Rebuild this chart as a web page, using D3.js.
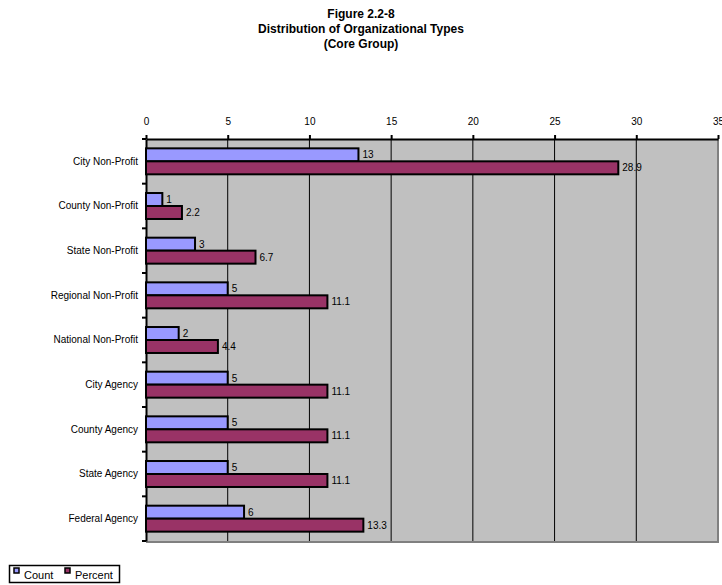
<!DOCTYPE html>
<html><head><meta charset="utf-8">
<script src="https://cdn.jsdelivr.net/npm/d3@7"></script>
<style>body{margin:0;background:#fff;} svg{display:block;font-family:Arial,"Liberation Sans",sans-serif;}</style>
</head><body>
<script>
const titleLines = ["Figure 2.2-8", "Distribution of Organizational Types", "(Core Group)"];
const categories = ["City Non-Profit","County Non-Profit","State Non-Profit","Regional Non-Profit","National Non-Profit","City Agency","County Agency","State Agency","Federal Agency"];
const countValues = [13, 1, 3, 5, 2, 5, 5, 5, 6];
const percentValues = [28.9, 2.2, 6.7, 11.1, 4.4, 11.1, 11.1, 11.1, 13.3];
const seriesNames = ["Count", "Percent"];
const seriesColors = ["#9999FF", "#993366"];
const xTicks = [0, 5, 10, 15, 20, 25, 30, 35];

const W = 722, H = 585;
const m = {left: 146, right: 4, top: 139, bottom: 44};
const FONT = "Arial,'Liberation Sans',sans-serif";
const svg = d3.select("body").append("svg").attr("width", W).attr("height", H);

const x = d3.scaleLinear().domain([0, 35]).range([m.left, W - m.right]);
const y = d3.scaleBand().domain(categories).range([m.top, H - m.bottom]).paddingInner(0).paddingOuter(0);
const inner = d3.scaleBand().domain(seriesNames).range([0, y.bandwidth()]).paddingInner(0).paddingOuter(0.72);

// title
svg.append("g").selectAll("text").data(titleLines).join("text")
  .attr("x", 361).attr("y", (d, i) => 18 + i * 15)
  .attr("text-anchor", "middle").attr("font-weight", "bold").attr("font-size", 12)
  .text(d => d);

// plot background
svg.append("rect").attr("x", x(0)).attr("y", m.top).attr("width", x(35) - x(0)).attr("height", H - m.bottom - m.top)
  .attr("fill", "#C0C0C0");

// gridlines
svg.append("g").selectAll("line").data(xTicks.filter(t => t > 0 && t < 35)).join("line")
  .attr("x1", d => x(d)).attr("x2", d => x(d)).attr("y1", m.top).attr("y2", H - m.bottom)
  .attr("stroke", "#000").attr("stroke-width", 1);

// right and bottom grey border
svg.append("line").attr("x1", x(35)).attr("x2", x(35)).attr("y1", m.top).attr("y2", H - m.bottom + 1)
  .attr("stroke", "#808080").attr("stroke-width", 2);
svg.append("line").attr("x1", x(0)).attr("x2", x(35) + 1).attr("y1", H - m.bottom + 1).attr("y2", H - m.bottom + 1)
  .attr("stroke", "#808080").attr("stroke-width", 2);

// top axis
const xAxis = d3.axisTop(x).tickValues(xTicks).tickSize(4).tickSizeOuter(0).tickPadding(10);
const gx = svg.append("g").attr("transform", `translate(0,${m.top})`).call(xAxis);
gx.select(".domain").attr("stroke", "#000").attr("stroke-width", 2);
gx.selectAll(".tick line").attr("stroke", "#000").attr("stroke-width", 2);
gx.selectAll(".tick text").attr("font-size", 10).attr("fill", "#000").attr("font-family", FONT);

// left axis
const yAxis = d3.axisLeft(y).tickSize(0).tickPadding(8);
const gy = svg.append("g").attr("transform", `translate(${m.left},0)`).call(yAxis);
gy.select(".domain").attr("stroke", "#000").attr("stroke-width", 2);
gy.selectAll(".tick text").attr("font-size", 10).attr("fill", "#000").attr("font-family", FONT);
// category boundary ticks
const bounds = categories.map(c => y(c)).concat([H - m.bottom]);
svg.append("g").selectAll("line").data(bounds).join("line")
  .attr("x1", m.left - 4).attr("x2", m.left).attr("y1", d => d).attr("y2", d => d)
  .attr("stroke", "#000").attr("stroke-width", 2);

// bars
const rows = categories.map((c, i) => ({c, vals: [countValues[i], percentValues[i]]}));
const gBars = svg.append("g");
rows.forEach(r => {
  r.vals.forEach((v, j) => {
    const s = seriesNames[j];
    const yy = y(r.c) + inner(s);
    gBars.append("rect")
      .attr("x", x(0)).attr("y", yy).attr("width", x(v) - x(0)).attr("height", inner.bandwidth())
      .attr("fill", seriesColors[j]).attr("stroke", "#000").attr("stroke-width", 2);
    gBars.append("text")
      .attr("x", x(v) + 4).attr("y", yy + inner.bandwidth() / 2 + 3.5)
      .attr("font-size", 10).attr("fill", "#000").text(v);
  });
});

// legend
const lg = svg.append("g");
lg.append("rect").attr("x", 9.5).attr("y", 565.5).attr("width", 110).attr("height", 17)
  .attr("fill", "#fff").attr("stroke", "#000").attr("stroke-width", 1.5);
const legX = [14, 65];
seriesNames.forEach((s, j) => {
  lg.append("rect").attr("x", legX[j]).attr("y", 568).attr("width", 5).attr("height", 5)
    .attr("fill", seriesColors[j]).attr("stroke", "#000").attr("stroke-width", 1.5);
  lg.append("text").attr("x", legX[j] + 10).attr("y", 579).attr("font-size", 11).text(s);
});
</script>
</body></html>
